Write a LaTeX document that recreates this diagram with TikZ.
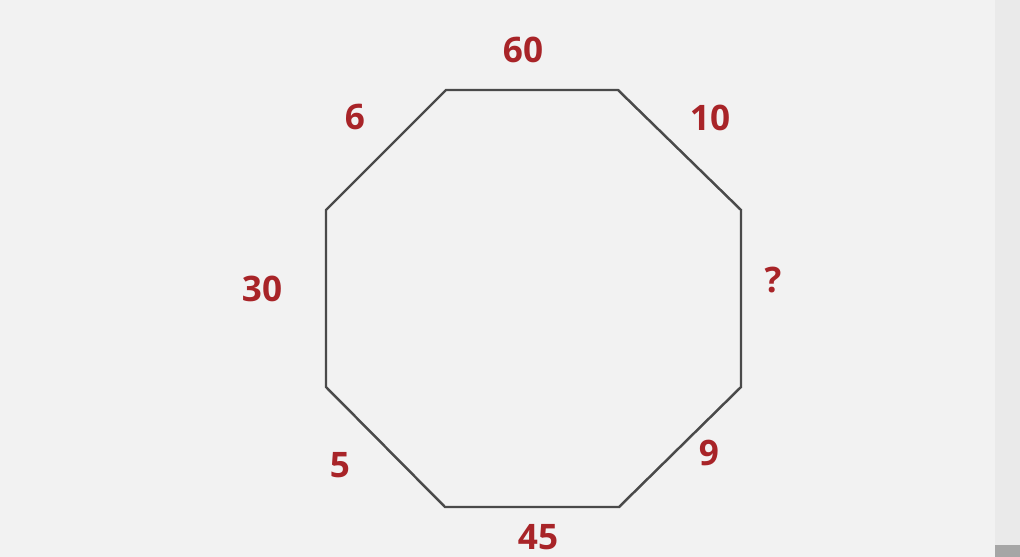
\documentclass[tikz,border=0pt]{standalone}
\usepackage{fontspec}
\setmainfont{Open Sans}
\usepackage{xcolor}
\usepackage{tikz}
\usetikzlibrary{positioning,calc}

\definecolor{numred}{HTML}{A82428}
\definecolor{edgegray}{HTML}{4A4A4A}
\definecolor{paper}{HTML}{F2F2F2}
\definecolor{stripgray}{HTML}{EAEAEA}

\begin{document}
\begin{tikzpicture}[x=0.02cm, y=-0.02cm,
    num/.style={text=numred, font=\fontsize{20}{22}\selectfont\bfseries, inner sep=0pt},
    rim/.style={draw=edgegray, line width=1.4pt, line join=miter}]
% octagon puzzle with numbers round the sides
\useasboundingbox (0,0) rectangle (1020,557);
\fill[paper] (0,0) rectangle (995,557);
\fill[stripgray] (995,0) rectangle (1020,557);
\fill[gray!70] (995,545) rectangle (1020,557);

% corners of the octagon
\coordinate (t1) at (446,90);
\coordinate (t2) at (618,90);
\coordinate (r1) at (741,210);
\coordinate (r2) at (741,387);
\coordinate (b2) at (619,507);
\coordinate (b1) at (445,507);
\coordinate (l2) at (326,387);
\coordinate (l1) at (326,210);

\draw[rim] (t1) -- (t2) -- (r1) -- (r2) -- (b2) -- (b1) -- (l2) -- (l1) -- cycle;

% the numbers
\node[num] (top) at (523,50) {60};
\node[num] (topright) at (710,118) {10};
\node[num] (right) at (773,280) {?};
\node[num] (botright) at (709,453) {9};
\node[num] (bottom) at (538,537) {45};
\node[num] (botleft) at (340,465) {5};
\node[num] (left) at (262,289) {30};
\node[num] (topleft) at (355,117) {6};
\end{tikzpicture}
\end{document}
